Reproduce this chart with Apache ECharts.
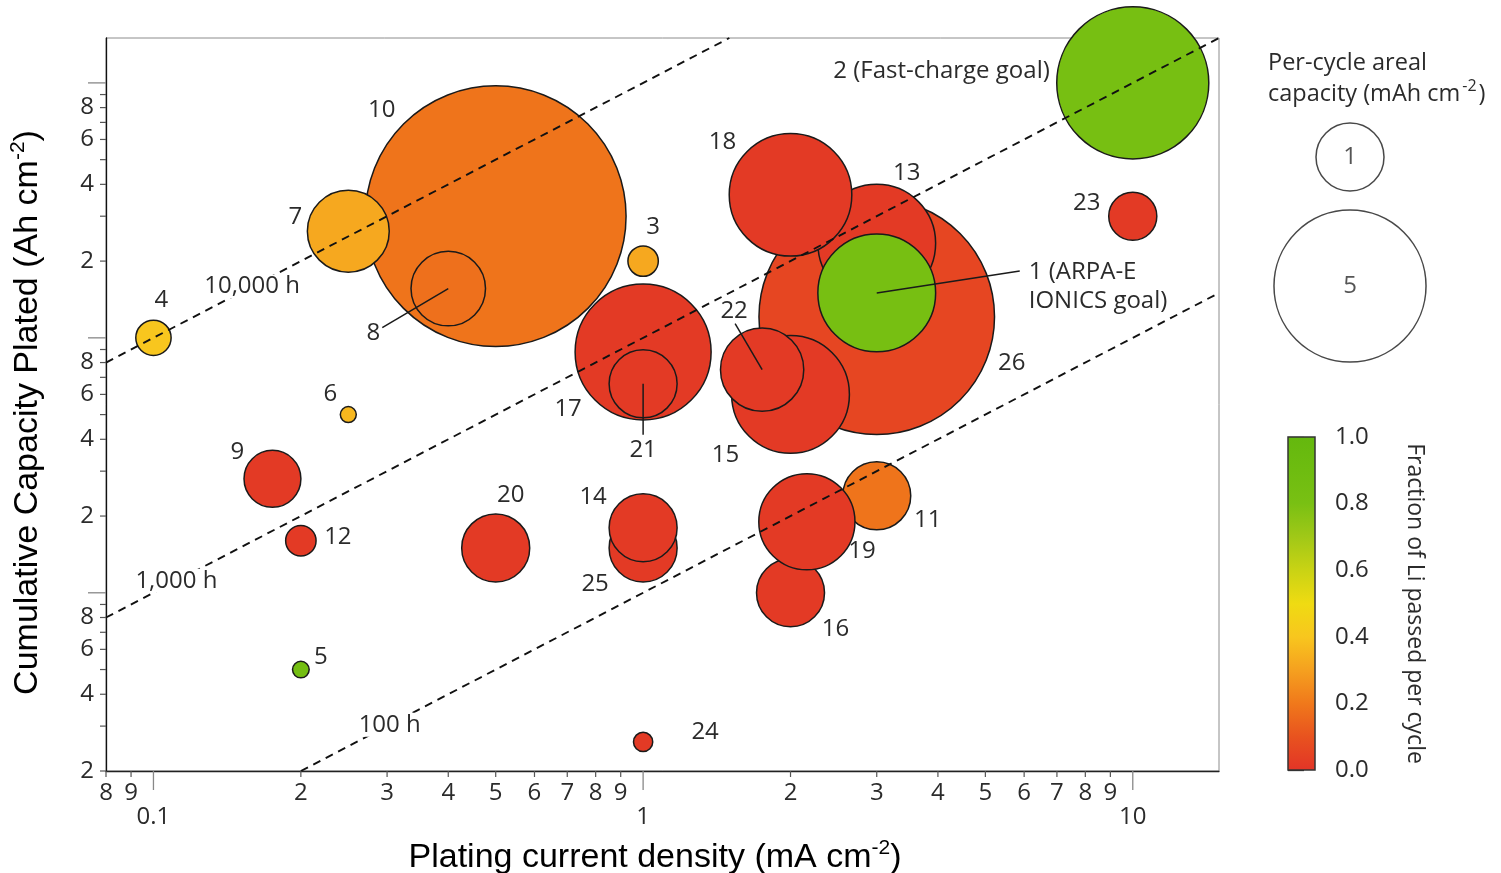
<!DOCTYPE html>
<html>
<head>
<meta charset="utf-8">
<title>Cumulative capacity plated vs plating current density</title>
<script src="https://cdn.jsdelivr.net/npm/echarts@6/dist/echarts.min.js"></script>
<style>
  html, body { margin: 0; padding: 0; background: #fff; }
  #chart { width: 1501px; height: 873px; }
</style>
</head>
<body>
<div id="chart"></div>
<script>
// ---- bubble records, listed in drawing order (later entries sit on top) ----
const bubbleId = [26, 13, 18, 15, 22, 1, 10, 8, 7, 17, 21, 3, 25, 14, 16, 11, 19, 2, 23, 4, 5, 6, 9, 12, 20, 24];
// plating current density (mA cm-2)
const currentDensity = [3, 3, 2, 2, 1.75, 3, 0.5, 0.4, 0.25, 1, 1, 1, 1, 1, 2, 3, 2.16, 10, 10, 0.1, 0.2, 0.25, 0.175, 0.2, 0.5, 1];
// cumulative capacity plated (Ah cm-2)
const cumulativeCapacity = [1.21, 2.35, 3.64, 0.6, 0.75, 1.5, 3, 1.56, 2.62, 0.88, 0.66, 2, 0.15, 0.18, 0.1, 0.24, 0.19, 10, 3, 1, 0.05, 0.5, 0.28, 0.16, 0.15, 0.026];
// per-cycle areal capacity (mAh cm-2)
const perCycleCapacity = [12, 3, 3.25, 3, 1.5, 3, 14.7, 1.2, 1.45, 4, 1, 0.2, 1, 1, 1, 1, 2, 5, 0.5, 0.27, 0.06, 0.055, 0.7, 0.2, 1, 0.08];
// fraction of Li passed per cycle
const liFraction = [0.06, 0.02, 0.02, 0.02, 0.02, 0.82, 0.19, 0.18, 0.32, 0.02, 0.02, 0.32, 0.02, 0.02, 0.02, 0.19, 0.02, 0.82, 0.02, 0.4, 0.85, 0.36, 0.02, 0.02, 0.02, 0.02];
const bubbleNote = { 1: '1 (ARPA-E\nIONICS goal)', 2: '2 (Fast-charge goal)' };

// ---- constant-duration guide lines ----
const lineHours = [10000, 1000, 100];
const lineLabels = ['10,000 h', '1,000 h', '100 h'];

// ---- axis ticks ----
const xMinorTicks = [0.08, 0.09, 0.2, 0.3, 0.4, 0.5, 0.6, 0.7, 0.8, 0.9, 2, 3, 4, 5, 6, 7, 8, 9];
const xMinorLabels = ['8', '9', '2', '3', '4', '5', '6', '7', '8', '9', '2', '3', '4', '5', '6', '7', '8', '9'];
const xDecadeTicks = [0.1, 1, 10];
const xDecadeLabels = ['0.1', '1', '10'];
const yMinorTicks = [0.02, 0.03, 0.04, 0.05, 0.06, 0.07, 0.08, 0.09, 0.2, 0.3, 0.4, 0.5, 0.6, 0.7, 0.8, 0.9, 2, 3, 4, 5, 6, 7, 8, 9];
const yMinorLabels = ['2', '', '4', '', '6', '', '8', '', '2', '', '4', '', '6', '', '8', '', '2', '', '4', '', '6', '', '8', ''];
const yDecadeTicks = [0.1, 1, 10];

// ---- legends ----
const sizeLegendValues = [1, 5];
const colorbarTicks = [0, 0.2, 0.4, 0.6, 0.8, 1.0];
const colorRamp = ['#e23427', '#e8521f', '#f0781b', '#f5a01f', '#f8c61e', '#efdb12',
                   '#c9d314', '#a0c817', '#79c013', '#6ebc10', '#64b80e'];

// ---- layout / styling ----
const X_MIN = 0.08, X_MAX = 15, Y_MIN = 0.02, Y_MAX = 15;
const R1 = 34;                       // bubble radius for 1 mAh cm-2 (area-proportional)
const FONT = "'Open Sans', 'Noto Sans', sans-serif";
const TITLE_FONT = "'Liberation Sans', Arial, sans-serif";
const TEXT = '#2b2b2b';
const STROKE = '#1a1a1a';

// pixel offsets of each bubble's number from the bubble centre
const labelPlacement = {
  1: { dx: 152, dy: -6, align: 'left', leader: [143, -22] },
  2: { dx: -83, dy: -12, align: 'right' },
  3: { dx: 10, dy: -34 }, 4: { dx: 8, dy: -38 }, 5: { dx: 20, dy: -12 },
  6: { dx: -18, dy: -20 }, 7: { dx: -53, dy: -14 },
  8: { dx: -75, dy: 45, leader: [-66, 39] },
  9: { dx: -35, dy: -27 }, 10: { dx: -114, dy: -106 }, 11: { dx: 51, dy: 24 },
  12: { dx: 37, dy: -4 }, 13: { dx: 30, dy: -70 }, 14: { dx: -50, dy: -31 },
  15: { dx: -65, dy: 61 }, 16: { dx: 45, dy: 36 }, 17: { dx: -75, dy: 57 },
  18: { dx: -68, dy: -53 }, 19: { dx: 55, dy: 29 }, 20: { dx: 15, dy: -53 },
  21: { dx: 0, dy: 66, leader: [0, 51] },
  22: { dx: -28, dy: -59, leader: [-27, -46] },
  23: { dx: -46, dy: -13 }, 24: { dx: 62, dy: -10 }, 25: { dx: -48, dy: 36 },
  26: { dx: 135, dy: 46 }
};
// where along each guide line its caption sits (x value)
const lineLabelAt = [0.159, 0.1114, 0.3037];

const bubbleSize = c => 2 * R1 * Math.sqrt(c);

// guide line endpoints, cut to the plotting window
function guideLine(hours) {
  const k = hours / 1000;              // Ah per (mA cm-2)
  const x0 = Math.max(X_MIN, Y_MIN / k);
  const x1 = Math.min(X_MAX, Y_MAX / k);
  return [[x0, x0 * k], [x1, x1 * k]];
}

const bubbleData = bubbleId.map((id, i) =>
  [currentDensity[i], cumulativeCapacity[i], perCycleCapacity[i], liFraction[i], id]);

function textEl(x, y, text, extra) {
  return {
    type: 'text', x: x, y: y,
    style: Object.assign({
      text: text, fill: TEXT, fontSize: 24, fontFamily: FONT,
      align: 'center', verticalAlign: 'middle'
    }, extra || {})
  };
}

const series = [];

// bubbles
series.push({
  type: 'scatter', xAxisIndex: 0, yAxisIndex: 0, z: 2,
  data: bubbleData,
  symbolSize: v => bubbleSize(v[2]),
  itemStyle: { borderColor: STROKE, borderWidth: 1.5, opacity: 1 },
  emphasis: { disabled: true }, silent: true, clip: false
});

// constant-duration dashed lines
lineHours.forEach(h => {
  series.push({
    type: 'line', xAxisIndex: 0, yAxisIndex: 0, z: 3,
    data: guideLine(h), symbol: 'none', silent: true,
    lineStyle: { color: '#111', width: 1.9, type: [8, 6] }
  });
});

// guide line captions
series.push({
  type: 'custom', xAxisIndex: 0, yAxisIndex: 0, z: 5, clip: false, silent: true,
  data: lineHours.map((h, i) => [lineLabelAt[i], lineLabelAt[i] * h / 1000, i]),
  renderItem: (params, api) => {
    const p = api.coord([api.value(0), api.value(1)]);
    return textEl(p[0], p[1], lineLabels[api.value(2)],
      { backgroundColor: '#fff', padding: [0, 3, 0, 3] });
  }
});

// bubble numbers and leader lines
series.push({
  type: 'custom', xAxisIndex: 0, yAxisIndex: 0, z: 4, clip: false, silent: true,
  data: bubbleData.map((d, i) => [d[0], d[1], i]),
  renderItem: (params, api) => {
    const idx = api.value(2);
    const id = bubbleId[idx];
    const pl = labelPlacement[id];
    const c = api.coord([api.value(0), api.value(1)]);
    const children = [];
    if (pl.leader) {
      children.push({
        type: 'line',
        shape: { x1: c[0], y1: c[1], x2: c[0] + pl.leader[0], y2: c[1] + pl.leader[1] },
        style: { stroke: STROKE, lineWidth: 1.5 }
      });
    }
    children.push(textEl(c[0] + pl.dx, c[1] + pl.dy, bubbleNote[id] || String(id),
      { align: pl.align || 'center', lineHeight: 29 }));
    return { type: 'group', children: children };
  }
});

// x-axis ticks and labels
series.push({
  type: 'custom', xAxisIndex: 0, yAxisIndex: 0, z: 4, clip: false, silent: true,
  data: xMinorTicks.map((v, i) => [v, Y_MIN, i]),
  renderItem: (params, api) => {
    const p = api.coord([api.value(0), Y_MIN]);
    return { type: 'group', children: [
      { type: 'line', shape: { x1: p[0], y1: p[1], x2: p[0], y2: p[1] + 6 }, style: { stroke: '#555', lineWidth: 1.2 } },
      textEl(p[0], p[1] + 22, xMinorLabels[api.value(2)])
    ] };
  }
});
series.push({
  type: 'custom', xAxisIndex: 0, yAxisIndex: 0, z: 4, clip: false, silent: true,
  data: xDecadeTicks.map((v, i) => [v, Y_MIN, i]),
  renderItem: (params, api) => {
    const p = api.coord([api.value(0), Y_MIN]);
    return { type: 'group', children: [
      { type: 'line', shape: { x1: p[0], y1: p[1], x2: p[0], y2: p[1] + 19 }, style: { stroke: '#888', lineWidth: 1.3 } },
      textEl(p[0], p[1] + 46, xDecadeLabels[api.value(2)])
    ] };
  }
});

// y-axis ticks and labels
series.push({
  type: 'custom', xAxisIndex: 0, yAxisIndex: 0, z: 4, clip: false, silent: true,
  data: yMinorTicks.map((v, i) => [X_MIN, v, i]),
  renderItem: (params, api) => {
    const p = api.coord([X_MIN, api.value(1)]);
    const children = [
      { type: 'line', shape: { x1: p[0] - 6, y1: p[1], x2: p[0], y2: p[1] }, style: { stroke: '#555', lineWidth: 1.2 } }
    ];
    const t = yMinorLabels[api.value(2)];
    if (t) children.push(textEl(p[0] - 12, p[1], t, { align: 'right' }));
    return { type: 'group', children: children };
  }
});
series.push({
  type: 'custom', xAxisIndex: 0, yAxisIndex: 0, z: 4, clip: false, silent: true,
  data: yDecadeTicks.map(v => [X_MIN, v]),
  renderItem: (params, api) => {
    const p = api.coord([X_MIN, api.value(1)]);
    return { type: 'line', shape: { x1: p[0] - 18, y1: p[1], x2: p[0], y2: p[1] }, style: { stroke: '#888', lineWidth: 1.3 } };
  }
});

// colour bar
series.push({
  type: 'custom', xAxisIndex: 1, yAxisIndex: 1, z: 2, clip: false, silent: true,
  data: [[0, 0]],
  renderItem: (params, api) => {
    const p0 = api.coord([0, 0]);
    const p1 = api.coord([1, 1]);
    const stops = colorRamp.map((c, i) => ({ offset: i / (colorRamp.length - 1), color: c }));
    return {
      type: 'rect',
      shape: { x: p0[0], y: p1[1], width: p1[0] - p0[0], height: p0[1] - p1[1] },
      style: { fill: new echarts.graphic.LinearGradient(0, 1, 0, 0, stops), stroke: '#333', lineWidth: 1.5 }
    };
  }
});

// bubble size key
series.push({
  type: 'scatter', xAxisIndex: 2, yAxisIndex: 2, z: 2, silent: true,
  data: sizeLegendValues.map((v, i) => [0, i, v]),
  symbolSize: v => bubbleSize(v[2]),
  itemStyle: { color: '#fff', borderColor: STROKE, borderWidth: 1.5 },
  label: { show: true, position: 'inside', formatter: p => String(p.value[2]), color: TEXT, fontSize: 24, fontFamily: FONT },
  emphasis: { disabled: true }
});

const titleRich = {
  a: { fontSize: 34, fontFamily: TITLE_FONT, color: '#000', lineHeight: 40 },
  s: { fontSize: 21, fontFamily: TITLE_FONT, color: '#000', lineHeight: 24, verticalAlign: 'top' }
};

const option = {
  animation: false,
  backgroundColor: '#fff',
  grid: [
    { left: 106, top: 38, width: 1113, height: 733, show: true, borderColor: '#8c8c8c', borderWidth: 1,
      containLabel: false, outerBoundsMode: 'none' },
    { left: 1288, top: 437, width: 27, height: 333, containLabel: false, outerBoundsMode: 'none' },
    { left: 1274, top: 92.5, width: 152, height: 258, containLabel: false, outerBoundsMode: 'none' }
  ],
  xAxis: [
    {
      type: 'log', gridIndex: 0, min: X_MIN, max: X_MAX, logBase: 10,
      axisLine: { show: true, lineStyle: { color: '#222', width: 1.3 } },
      axisTick: { show: false }, axisLabel: { show: false }, splitLine: { show: false },
      name: '{a|Plating current density (mA cm}{s|-2}{a|)}',
      nameLocation: 'middle', nameGap: 67,
      nameTextStyle: { rich: titleRich, padding: [0, 15, 0, 0] }
    },
    { type: 'value', gridIndex: 1, min: 0, max: 1, show: false },
    { type: 'value', gridIndex: 2, min: -1, max: 1, show: false }
  ],
  yAxis: [
    {
      type: 'log', gridIndex: 0, min: Y_MIN, max: Y_MAX, logBase: 10,
      axisLine: { show: true, lineStyle: { color: '#111', width: 1.3 } },
      axisTick: { show: false }, axisLabel: { show: false }, splitLine: { show: false },
      name: '{a|Cumulative Capacity Plated (Ah cm}{s|-2}{a|)}',
      nameLocation: 'middle', nameGap: 58,
      nameTextStyle: { rich: titleRich, padding: [0, 16, 0, 0] }
    },
    {
      type: 'value', gridIndex: 1, min: 0, max: 1, interval: 0.2, position: 'right',
      axisLine: { show: false },
      axisTick: { show: true, length: 16, lineStyle: { color: '#333', width: 1.3 } },
      axisLabel: { margin: 20, fontSize: 24, fontFamily: FONT, color: TEXT, formatter: v => v.toFixed(1) },
      splitLine: { show: false },
      name: 'Fraction of Li passed per cycle', nameLocation: 'middle', nameRotate: -90, nameGap: 88,
      nameTextStyle: { fontSize: 23, fontFamily: FONT, color: TEXT }
    },
    {
      type: 'category', gridIndex: 2, inverse: true, show: false,
      data: sizeLegendValues.map(String)
    }
  ],
  visualMap: {
    type: 'continuous', show: false, seriesIndex: 0, dimension: 3,
    min: 0, max: 1, inRange: { color: colorRamp }
  },
  graphic: [{
    type: 'text', left: 1268, top: 51, silent: true,
    style: {
      text: '{a|Per-cycle areal}\n{a|capacity (mAh cm}{s|-2}{a|)}',
      rich: {
        a: { fontSize: 23.5, fontFamily: FONT, fill: TEXT, color: TEXT, lineHeight: 31 },
        s: { fontSize: 16, fontFamily: FONT, fill: TEXT, color: TEXT, lineHeight: 18, verticalAlign: 'top', padding: [0, 2, 0, 2] }
      }
    }
  }],
  series: series
};

const chart = echarts.init(document.getElementById('chart'), null, { renderer: 'canvas' });
chart.setOption(option);
</script>
</body>
</html>
